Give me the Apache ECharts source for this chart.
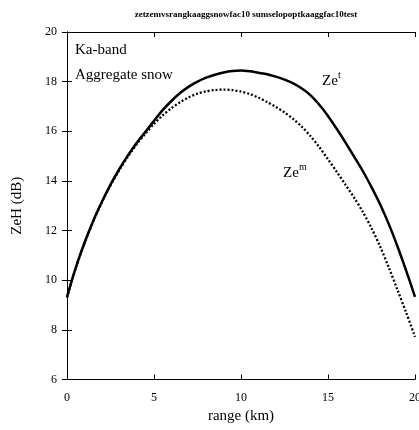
<!DOCTYPE html>
<html>
<head>
<meta charset="utf-8">
<script src="https://cdn.jsdelivr.net/npm/echarts@6/dist/echarts.min.js"></script>
<style>html,body{margin:0;padding:0;background:#fff}#c{width:419px;height:430px}</style>
</head>
<body>
<div id="c"></div>
<script>
const rangeKm = [0,0.5,1,1.5,2,2.5,3,3.5,4,4.5,5,5.5,6,6.5,7,7.5,8,8.5,9,9.5,10,10.5,11,11.5,12,12.5,13,13.5,14,14.5,15,15.5,16,16.5,17,17.5,18,18.5,19,19.5,20];
const zeT = [9.33,10.5,11.5,12.38,13.15,13.85,14.47,15.03,15.53,15.97,16.42,16.85,17.22,17.54,17.8,18.0,18.16,18.28,18.37,18.43,18.45,18.42,18.36,18.3,18.2,18.08,17.93,17.72,17.45,17.07,16.62,16.1,15.55,14.98,14.4,13.75,13.05,12.25,11.35,10.37,9.33];
const zeM = [9.3,10.48,11.48,12.36,13.13,13.82,14.43,14.98,15.47,15.9,16.3,16.64,16.93,17.17,17.37,17.52,17.61,17.66,17.68,17.66,17.6,17.5,17.36,17.18,16.98,16.76,16.5,16.18,15.8,15.36,14.87,14.37,13.85,13.33,12.75,12.1,11.35,10.5,9.6,8.68,7.72];
const xTicks = [0,5,10,15,20];
const yTicks = [6,8,10,12,14,16,18,20];
const titleText = 'zetzemvsrangkaaggsnowfac10 sumselopoptkaaggfac10test';

const serif = 'Liberation Serif';
const chart = echarts.init(document.getElementById('c'), null, {renderer:'canvas'});
const axisCommon = {
  axisLine:{show:true, lineStyle:{color:'#000', width:1}},
  axisTick:{show:true, inside:true, length:5, lineStyle:{color:'#000'}},
  splitLine:{show:false}
};
chart.setOption({
  animation:false,
  backgroundColor:'#fff',
  title:{text:titleText, left:241, textAlign:'center', top:5,
    textStyle:{fontFamily:serif, fontSize:9, fontWeight:'bold', color:'#000'}},
  grid:{left:67, right:4, top:32, bottom:50.5, containLabel:false, outerBoundsMode:'none'},
  xAxis:[
    Object.assign({type:'value', min:0, max:20, interval:5, position:'bottom',
      name:'range (km)', nameLocation:'middle', nameGap:28,
      nameTextStyle:{fontFamily:serif, fontSize:15, color:'#000'},
      axisLabel:{fontFamily:serif, fontSize:12, color:'#000', margin:12, hideOverlap:false,
        formatter:v=>xTicks.includes(v)?String(v):''}}, axisCommon),
    Object.assign({type:'value', min:0, max:20, interval:5, position:'top', axisLabel:{show:false}}, axisCommon)
  ],
  yAxis:[
    Object.assign({type:'value', min:6, max:20, interval:2, position:'left',
      name:'ZeH (dB)', nameLocation:'middle', nameGap:42, nameRotate:90,
      nameTextStyle:{fontFamily:serif, fontSize:15, color:'#000'},
      axisLabel:{fontFamily:serif, fontSize:12, color:'#000', margin:10,
        formatter:v=>yTicks.includes(v)?String(v):''}}, axisCommon),
    Object.assign({type:'value', min:6, max:20, interval:2, position:'right', axisLabel:{show:false}}, axisCommon)
  ],
  series:[
    {type:'line', name:'Zet', data:rangeKm.map((r,i)=>[r,zeT[i]]), showSymbol:false, smooth:0.3,
      lineStyle:{color:'#000', width:2.5}},
    {type:'line', name:'Zem', data:rangeKm.map((r,i)=>[r,zeM[i]]), showSymbol:false, smooth:0.3,
      lineStyle:{color:'#000', width:2.3, type:[2,2]}}
  ],
  graphic:[
    {type:'text', left:75, top:43, style:{text:'Ka-band', font:'15px "Liberation Serif"', fill:'#000'}},
    {type:'text', left:75, top:68, style:{text:'Aggregate snow', font:'15px "Liberation Serif"', fill:'#000'}},
    {type:'text', left:322, top:74, style:{text:'Ze', font:'15px "Liberation Serif"', fill:'#000'}},
    {type:'text', left:338, top:70, style:{text:'t', font:'10px "Liberation Serif"', fill:'#000'}},
    {type:'text', left:283, top:166, style:{text:'Ze', font:'15px "Liberation Serif"', fill:'#000'}},
    {type:'text', left:299, top:162, style:{text:'m', font:'10px "Liberation Serif"', fill:'#000'}}
  ]
});
</script>
</body>
</html>
